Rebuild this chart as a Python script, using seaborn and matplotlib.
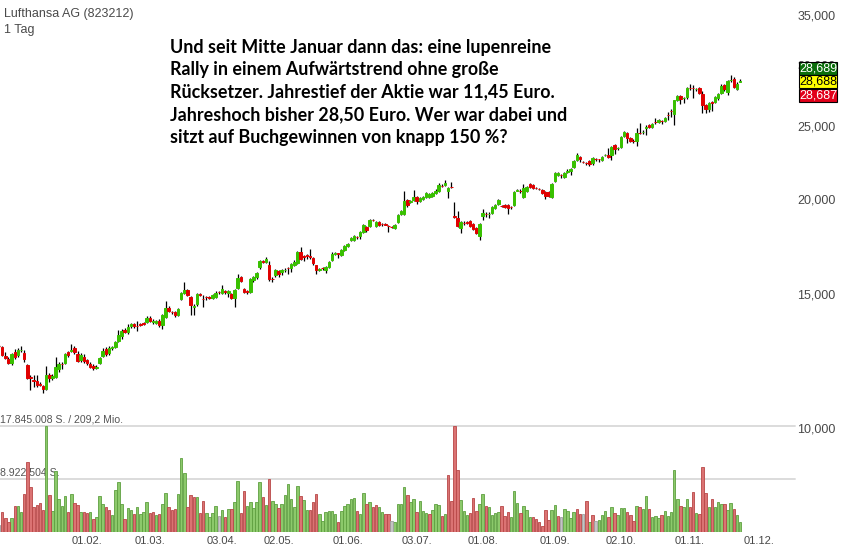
import numpy as np
import pandas as pd
import matplotlib
matplotlib.use("Agg")
import matplotlib.pyplot as plt
from matplotlib import ticker, transforms
from matplotlib.patches import Rectangle
import seaborn as sns

# ------------------------------------------------------------------ data
chart_title = "Lufthansa AG (823212)"
chart_period = "1 Tag"
note_lines = [
    "Und seit Mitte Januar dann das: eine lupenreine",
    "Rally in einem Aufwärtstrend ohne große",
    "Rücksetzer. Jahrestief der Aktie war 11,45 Euro.",
    "Jahreshoch bisher 28,50 Euro. Wer war dabei und",
    "sitzt auf Buchgewinnen von knapp 150 %?",
]
first_day = "2016-12-22"
last_axis_day = "2017-12-01"
xetra_holidays = ["2016-12-26", "2017-04-14", "2017-04-17", "2017-05-01"]

open_ = [
    12.80, 12.77, 12.44, 12.32, 12.19, 12.58, 12.47, 12.66, 12.54, 12.10,
    11.66, 11.56, 11.53, 11.43, 11.35, 11.25, 11.74, 11.64, 11.67, 11.97,
    12.15, 12.19, 12.57, 12.62, 12.74, 12.51, 12.27, 12.39, 12.28, 12.12, 12.06,
    12.00,
    12.19, 12.43, 12.70, 12.54, 12.72, 12.78, 13.01, 13.23, 13.45,
    13.36, 13.61, 13.70, 13.63, 13.70, 13.74, 13.78, 13.96, 13.80, 13.74,
    13.84, 13.64, 14.00, 14.38, 14.22, 14.20, 14.07, 14.80, 15.05, 15.18,
    14.87, 14.44, 14.55, 14.99, 14.80, 14.87, 14.86, 14.82, 14.87, 15.09,
    15.05, 15.12, 15.05, 15.00, 14.82, 15.27, 15.79, 15.25, 15.12, 15.10,
    15.65, 15.79, 16.28, 16.58, 16.55, 16.38, 15.72, 15.89, 16.08, 16.03,
    16.13,
    16.25, 16.23, 16.40, 16.50, 17.05, 16.82, 16.87, 16.82, 16.72, 16.38,
    16.16, 16.24, 16.13, 16.28, 16.63, 16.96, 16.97, 16.88, 17.14, 17.34,
    17.67, 17.67, 17.85, 17.89, 18.10, 18.38, 18.43, 18.78,
    18.43, 18.65, 18.56, 18.55, 18.45, 18.37, 18.33, 18.65, 19.12, 19.12, 19.94, 19.82,
    19.94, 20.12, 19.88, 20.00, 20.12, 20.12, 20.18, 20.37, 20.50, 20.83,
    20.87, 20.50, 20.78, 18.98, 18.90, 18.32, 18.61, 18.67, 18.70, 18.55, 18.32, 17.89, 19.00,
    19.15,
    19.10, 19.18, 19.47, 19.70, 19.62, 19.65, 19.65,
    19.56, 19.65, 20.53, 20.52, 20.12, 20.50, 20.94, 20.87, 20.70, 20.64,
    20.56, 20.43, 20.43, 20.12, 21.16, 21.51,
    21.52, 21.40, 21.75, 21.78, 22.07, 22.51, 22.72, 22.40, 22.31, 22.44, 22.30, 22.60, 22.57, 22.51,
    22.84, 22.86, 22.86, 23.56, 23.33, 23.42, 24.22, 24.44, 24.07, 23.87, 23.84, 24.45,
    24.50,
    24.85, 25.04, 24.90, 25.28, 25.27, 25.36, 25.34, 25.83, 26.15, 25.92,
    27.01, 27.34, 27.16, 27.26, 28.03, 28.02, 27.90, 28.01, 27.50, 26.60,
    26.28, 26.82, 26.84, 27.17, 27.60, 28.27, 27.67, 28.67, 28.78, 27.92, 28.55,
]
high = [
    12.87, 12.82, 12.58, 12.40, 12.55, 12.70, 12.72, 12.81, 12.66, 12.13,
    11.72, 11.74, 11.74, 11.50, 11.38, 12.08, 11.80, 11.76, 12.40, 12.20,
    12.22, 12.53, 12.62, 12.89, 12.80, 12.62, 12.55, 12.50, 12.33, 12.20, 12.12,
    12.10,
    12.40, 12.75, 12.78, 12.80, 12.82, 13.00, 13.45, 13.50, 13.52,
    13.68, 13.73, 13.74, 13.83, 13.75, 13.78, 14.05, 14.05, 13.90, 13.88,
    13.90, 14.10, 14.68, 14.45, 14.27, 14.25, 14.40, 15.10, 15.55, 15.25,
    14.92, 14.55, 15.05, 15.05, 14.95, 14.92, 14.90, 15.00, 15.15, 15.15,
    15.40, 15.20, 15.20, 15.05, 15.22, 15.93, 15.85, 15.30, 15.18, 15.75,
    15.85, 16.05, 16.65, 16.62, 16.78, 16.60, 15.80, 16.20, 16.15, 16.20,
    16.22,
    16.30, 16.50, 16.62, 17.10, 17.30, 16.90, 16.92, 17.20, 16.77, 16.40,
    16.25, 16.30, 16.33, 16.60, 17.05, 17.05, 17.00, 17.20, 17.40, 17.50,
    17.85, 17.95, 17.90, 18.15, 18.55, 18.45, 18.82, 18.82,
    18.70, 18.72, 18.60, 18.60, 18.50, 18.45, 18.55, 19.10, 19.35, 20.50, 20.00, 19.95,
    20.56, 20.18, 20.12, 20.18, 20.45, 20.37, 20.45, 20.65, 21.00, 20.92,
    21.19, 20.75, 21.10, 19.82, 19.30, 18.70, 18.70, 18.72, 18.80, 18.60, 18.40, 18.60, 19.40,
    19.25,
    19.25, 19.58, 19.70, 20.00, 19.68, 19.72, 19.70,
    19.60, 20.50, 20.62, 20.60, 20.95, 20.80, 21.00, 20.92, 20.75, 20.70,
    20.62, 20.50, 20.48, 21.00, 21.75, 21.70,
    21.60, 21.75, 21.90, 21.95, 22.50, 23.00, 22.80, 22.45, 22.40, 22.50, 22.75, 22.65, 22.62, 22.78,
    22.95, 23.35, 23.50, 23.65, 23.45, 24.20, 24.58, 24.51, 24.14, 24.00, 24.80, 25.20,
    24.70,
    25.04, 25.10, 25.20, 25.55, 25.50, 25.40, 25.65, 26.05, 26.25, 27.05,
    27.40, 27.45, 27.30, 28.10, 28.35, 28.30, 28.00, 28.10, 27.80, 26.70,
    26.85, 26.95, 27.35, 27.60, 28.40, 28.35, 28.70, 29.14, 28.95, 28.50, 28.80,
]
low = [
    12.76, 12.42, 12.33, 12.13, 12.10, 12.33, 12.40, 12.58, 12.20, 11.58,
    11.22, 11.33, 11.33, 11.35, 11.10, 11.20, 11.50, 11.55, 11.62, 11.85,
    11.95, 12.15, 12.40, 12.58, 12.50, 12.20, 12.22, 12.18, 12.10, 11.98, 11.90,
    11.94,
    12.15, 12.38, 12.45, 12.48, 12.68, 12.72, 12.98, 13.10, 13.32,
    13.30, 13.55, 13.55, 13.41, 13.60, 13.64, 13.74, 13.80, 13.70, 13.70,
    13.58, 13.50, 13.95, 14.20, 14.10, 14.00, 14.02, 14.75, 15.00, 14.90,
    14.07, 14.07, 14.45, 14.90, 14.43, 14.75, 14.78, 14.78, 14.83, 15.02,
    15.00, 15.00, 14.85, 14.78, 14.43, 15.22, 15.55, 15.05, 15.00, 15.05,
    15.55, 15.70, 16.20, 16.50, 16.50, 15.60, 15.55, 15.80, 15.80, 15.90,
    16.05,
    15.95, 16.05, 16.35, 16.45, 16.65, 16.60, 16.70, 16.70, 16.40, 15.95,
    16.10, 16.15, 15.98, 16.22, 16.58, 16.90, 16.75, 16.83, 17.09, 17.30,
    17.60, 17.62, 17.75, 17.75, 18.05, 18.10, 18.38, 18.70,
    18.38, 18.45, 18.45, 18.47, 18.10, 18.30, 18.25, 18.60, 19.05, 19.05, 19.55, 19.75,
    19.88, 19.70, 19.82, 19.95, 20.06, 20.06, 20.12, 20.30, 20.45, 20.75,
    20.83, 20.06, 20.70, 18.90, 18.38, 18.05, 18.50, 18.55, 18.38, 18.21, 18.00, 17.67, 18.77,
    18.95,
    18.90, 19.12, 19.40, 19.65, 19.55, 19.47, 19.10,
    19.40, 19.60, 20.48, 20.40, 20.06, 20.45, 20.70, 20.62, 20.60, 20.55,
    20.30, 20.00, 20.12, 20.06, 21.10, 21.45,
    21.30, 21.35, 21.65, 21.50, 21.95, 22.45, 22.40, 22.30, 22.20, 22.15, 22.20, 22.45, 22.40, 22.45,
    22.78, 22.65, 22.51, 22.95, 23.25, 23.35, 24.15, 23.70, 23.78, 23.70, 23.50, 24.35,
    24.40,
    24.30, 24.80, 24.85, 25.15, 25.20, 25.10, 25.28, 25.40, 25.65, 25.04,
    26.90, 26.70, 26.80, 27.10, 27.85, 27.20, 27.80, 27.50, 26.00, 25.95,
    26.05, 26.10, 26.75, 27.00, 27.55, 27.80, 27.40, 28.55, 28.05, 27.85, 28.50,
]
close = [
    12.80, 12.47, 12.37, 12.19, 12.50, 12.41, 12.66, 12.68, 12.32, 11.63,
    11.63, 11.52, 11.39, 11.40, 11.25, 11.74, 11.64, 11.71, 12.03, 12.13,
    12.12, 12.50, 12.48, 12.65, 12.57, 12.24, 12.47, 12.24, 12.17, 12.04, 11.99,
    12.04,
    12.35, 12.61, 12.51, 12.74, 12.78, 12.96, 13.25, 13.41, 13.37,
    13.58, 13.69, 13.62, 13.60, 13.67, 13.69, 13.95, 13.84, 13.82, 13.82,
    13.64, 14.07, 14.38, 14.25, 14.20, 14.07, 14.33, 15.05, 15.18, 14.95,
    14.51, 14.47, 15.00, 14.95, 14.77, 14.85, 14.84, 14.95, 15.05, 15.09,
    15.25, 15.09, 15.13, 14.82, 15.18, 15.74, 15.60, 15.10, 15.10, 15.70,
    15.79, 15.98, 16.58, 16.55, 16.68, 15.70, 15.68, 16.13, 15.93, 16.13,
    16.16,
    16.22, 16.43, 16.55, 17.05, 16.70, 16.78, 16.84, 16.79, 16.47, 16.13,
    16.19, 16.21, 16.28, 16.55, 16.96, 16.99, 16.94, 17.14, 17.34, 17.45,
    17.78, 17.89, 17.83, 18.10, 18.49, 18.21, 18.77, 18.75,
    18.65, 18.49, 18.53, 18.52, 18.42, 18.37, 18.49, 19.06, 19.30, 19.88, 19.65, 19.88,
    20.12, 19.88, 20.06, 20.12, 20.37, 20.31, 20.37, 20.50, 20.87, 20.80,
    21.00, 20.68, 20.75, 18.94, 18.43, 18.65, 18.58, 18.60, 18.43, 18.27, 18.05, 18.55, 19.18,
    19.10,
    19.12, 19.53, 19.65, 19.94, 19.59, 19.53, 19.47,
    19.53, 20.43, 20.56, 20.49, 20.68, 20.75, 20.75, 20.68, 20.67, 20.61,
    20.37, 20.18, 20.18, 20.94, 21.68, 21.64,
    21.52, 21.68, 21.78, 21.90, 22.44, 22.86, 22.58, 22.37, 22.31, 22.24, 22.65, 22.57, 22.57, 22.72,
    22.86, 22.72, 23.42, 23.28, 23.36, 24.14, 24.51, 24.07, 23.85, 23.84, 24.44, 24.42,
    24.55,
    24.88, 24.88, 25.12, 25.25, 25.42, 25.33, 25.57, 25.80, 26.12, 27.01,
    27.34, 27.09, 27.20, 28.01, 28.00, 27.99, 27.93, 27.60, 26.60, 26.28,
    26.76, 26.79, 27.26, 27.50, 28.18, 27.92, 28.61, 28.70, 28.10, 28.36, 28.62,
]
volume_mio = [
    1.18, 3.42, 2.31, 1.63, 2.41, 4.43, 4.38, 3.42, 6.34, 11.83,
    7.57, 4.26, 4.54, 4.83, 3.70, 17.845008, 6.23, 3.58, 10.27, 5.50,
    4.38, 6.01, 3.42, 6.34, 4.93, 4.54, 3.37, 3.37, 3.15, 3.42, 2.19,
    2.60,
    6.06, 4.71, 4.21, 3.70, 2.86, 7.07, 8.36, 4.71, 2.24,
    4.04, 3.70, 3.08, 4.26, 3.08, 3.32, 5.10, 3.20, 3.37, 2.86,
    3.08, 4.76, 6.61, 4.26, 3.70, 3.92, 6.45, 12.50, 9.93, 4.26,
    6.23, 5.94, 5.84, 3.15, 5.22, 3.25, 2.58, 3.25, 4.43, 2.74,
    3.65, 2.58, 3.82, 3.87, 5.05, 8.63, 3.25, 6.85, 4.43, 5.00,
    3.99, 5.10, 8.42, 5.89, 4.54, 8.97, 5.22, 4.71, 3.99, 4.66,
    6.20,
    8.03, 5.55, 4.21, 7.79, 6.01, 5.34, 3.65, 3.65, 5.05, 6.34,
    2.98, 1.85, 3.37, 3.48, 3.53, 3.03, 1.68, 3.53, 4.43, 4.76,
    5.55, 5.77, 3.53, 3.08, 6.51, 4.71, 5.05, 4.21,
    4.49, 4.26, 3.32, 3.03, 3.03, 1.90, 1.73, 4.66, 4.66, 7.52, 6.23, 5.00,
    5.55, 3.32, 5.22, 3.58, 3.20, 3.03, 3.75, 4.66, 4.49, 2.74,
    3.03, 9.59, 5.22, 17.84, 10.49, 5.44, 3.48, 2.86, 3.20, 5.67, 3.58, 4.71, 6.45,
    4.40,
    4.16, 2.91, 3.15, 3.32, 4.33, 2.74, 3.32,
    2.52, 6.85, 4.83, 3.15, 4.33, 3.65, 2.47, 2.47, 2.19, 1.68,
    0.96, 3.65, 2.07, 3.65, 4.59, 2.64,
    2.47, 3.87, 3.53, 2.36, 3.37, 3.87, 3.08, 3.08, 5.22, 1.73, 2.81, 1.90, 2.02, 2.81,
    3.53, 2.52, 4.21, 3.15, 2.91, 4.04, 4.04, 3.32, 2.86, 1.80, 4.38, 4.16,
    3.90,
    6.01, 3.82, 2.47, 2.64, 2.41, 2.81, 3.53, 2.74, 3.32, 10.43,
    5.50, 4.38, 4.26, 5.60, 4.21, 6.73, 3.20, 3.03, 10.99, 6.51,
    4.21, 5.50, 4.26, 5.00, 4.66, 4.66, 3.70, 4.88, 3.87, 2.91, 1.60,
]
# volume bar direction: g = up, r = down, n = unchanged
vol_dir = "".join([
    "nrrrgrggrr", "rrrrrgrggg", "ggrgrrgrrgr", "g",
    "ggrrggggr", "ggrggggrrg", "rggrrrgggr",
    "rrgrrggggn", "grgrggrrgg", "gggrgrggrg", "g",
    "ggggrggrrr", "ggggggrggg", "ggrggrgr",
    "rggrrnggggrg", "grgggrgggr", "grrrrgggrrrgg", "r",
    "ggggrrr", "gggrgggrrr", "rrrggr",
    "nggggrrnrgrngg", "grgrgggrrrgr", "g",
    "grgggrgggg", "grggrrgrrr", "grgggrggrgg",
])
quotes = [28.689, 28.688, 28.687]
price_ticks = [10, 15, 20, 25, 30, 35]
month_ticks = ["2017-02-01", "2017-03-01", "2017-04-03", "2017-05-02", "2017-06-01",
               "2017-07-03", "2017-08-01", "2017-09-01", "2017-10-02", "2017-11-01",
               "2017-12-01"]
turnover_label = "209,2 Mio."

# ------------------------------------------------------------------ style
sns.set_theme(style="white")
plt.rcParams["font.family"] = ["Liberation Sans", "DejaVu Sans"]
plt.rcParams["axes.unicode_minus"] = False

W, H, DPI = 842, 556, 100
fig = plt.figure(figsize=(W / DPI, H / DPI), dpi=DPI, facecolor="white")

PLOT_R = 795          # right edge of plot area (px)
PRICE_BOTTOM = 428    # px from top where the log price axis reaches 10
VOL_TOP, VOL_BOTTOM = 426, 532
PX_PER_LN = 330.0

axp = fig.add_axes([0, 1 - PRICE_BOTTOM / H, PLOT_R / W, PRICE_BOTTOM / H])
axv = fig.add_axes([0, 1 - VOL_BOTTOM / H, PLOT_R / W, (VOL_BOTTOM - VOL_TOP) / H])
for a in (axp, axv):
    a.set_facecolor("none")
    for s in a.spines.values():
        s.set_visible(False)

# ------------------------------------------------------------------ x positions
cal = pd.bdate_range(first_day, last_axis_day)
cal = cal[~cal.isin(pd.to_datetime(xetra_holidays))]
n = len(close)
xpos = np.arange(n)
tick_idx = [cal.get_loc(pd.Timestamp(d)) for d in month_ticks]
tick_lab = [pd.Timestamp(d).strftime("%d.%m.") for d in month_ticks]
ppd = (759 - 87) / (tick_idx[-1] - tick_idx[0])
xl = tick_idx[0] - 87 / ppd
xr = xl + PLOT_R / ppd

# ------------------------------------------------------------------ candles
O = np.array(open_); Hh = np.array(high); L = np.array(low); C = np.array(close)
up = C > O
body_col = np.where(up, "#38c000", "#e00000")
axp.set_yscale("log")
axp.vlines(xpos, L, Hh, colors="black", linewidth=0.9, zorder=2)
axp.bar(xpos, np.abs(C - O), bottom=np.minimum(O, C), width=0.8,
        color=body_col, edgecolor=body_col, linewidth=0.7, zorder=3)
axp.set_ylim(9.995, 10 * np.exp(PRICE_BOTTOM / PX_PER_LN))
axp.set_xlim(xl, xr)
axp.set_xticks([])
axp.yaxis.tick_right()
axp.yaxis.set_major_locator(ticker.FixedLocator(price_ticks))
axp.yaxis.set_minor_locator(ticker.NullLocator())
axp.yaxis.set_major_formatter(ticker.FuncFormatter(lambda v, p: f"{v:.3f}".replace(".", ",")))
axp.tick_params(axis="y", length=0, pad=1.5, labelsize=9, labelcolor="#484848")
axp.set_ylabel("")

# ------------------------------------------------------------------ volume
vdf = pd.DataFrame({"pos": xpos, "vol": np.array(volume_mio) * 1e6, "dir": list(vol_dir)})
fills = {"g": "#8cc96b", "r": "#db7373", "n": "#c4c4c4"}
edges = {"g": "#5e9f3f", "r": "#b84747", "n": "#a0a0a0"}
order = ["g", "r", "n"]
sns.barplot(data=vdf, x="pos", y="vol", hue="dir", hue_order=order, palette=fills,
            dodge=False, native_scale=True, width=0.8, errorbar=None, legend=False,
            saturation=1, linewidth=0.6, edgecolor="none", ax=axv, zorder=2)
for cont, lvl in zip(axv.containers, order):
    for b in cont:
        b.set_edgecolor(edges[lvl])
vmax = vdf["vol"].max()
axv.set_ylim(0, vmax)
axv.set_xlim(xl, xr)
axv.set_yticks([])
axv.set_xlabel(""); axv.set_ylabel("")
axv.set_xticks(tick_idx, tick_lab)
axv.tick_params(axis="x", length=0, pad=3, labelsize=8, labelcolor="#484848")
for lvl in (vmax, vmax / 2):
    axv.axhline(lvl, color="#dcdcdc", linewidth=1.4, zorder=0.5, clip_on=False)

blend = transforms.blended_transform_factory(axv.transAxes, axv.transData)
top_txt = f"{vmax:,.0f}".replace(",", ".") + " S. / " + turnover_label
half_txt = f"{vmax / 2:,.0f}".replace(",", ".") + " S."
axv.text(0.0006, vmax, top_txt, transform=transforms.offset_copy(blend, fig=fig, y=1.5, units="dots"),
         ha="left", va="bottom", fontsize=7.6, color="#555555", zorder=1, clip_on=False)
axv.text(0.0006, vmax / 2, half_txt, transform=transforms.offset_copy(blend, fig=fig, y=0.5, units="dots"),
         ha="left", va="bottom", fontsize=7.6, color="#555555", zorder=1, clip_on=False)

# ------------------------------------------------------------------ quote boxes
disp = axp.transData.transform((xr, quotes[1]))
yc = H - disp[1] + 1.5
box_fill = ["#0b6e0b", "#ffff00", "#e2001a"]
box_txt = ["white", "black", "white"]
for k, q in enumerate(quotes):
    c = yc + (k - 1) * 13.5
    fig.add_artist(Rectangle((799 / W, 1 - (c + 6.5) / H), 38 / W, 13 / H,
                             transform=fig.transFigure, facecolor=box_fill[k],
                             edgecolor="black", linewidth=0.8, zorder=5))
    fig.text(818 / W, 1 - c / H, f"{q:.3f}".replace(".", ","), ha="center", va="center",
             fontsize=9, color=box_txt[k], zorder=6)

# ------------------------------------------------------------------ header texts
fig.text(4 / W, 1 - 14 / H, chart_title, ha="left", va="center", fontsize=9, color="#4a4a4a")
fig.text(4 / W, 1 - 30 / H, chart_period, ha="left", va="center", fontsize=9, color="#4a4a4a")

renderer = fig.canvas.get_renderer()
note_objs = []
for k, line in enumerate(note_lines):
    t = fig.text(170 / W, 1 - (47 + 22.5 * k) / H, line, ha="left", va="center",
                 fontsize=12, fontweight="bold", family=["Lato", "DejaVu Sans"], color="black")
    note_objs.append(t)
w0 = note_objs[0].get_window_extent(renderer).width
for t in note_objs:
    t.set_fontsize(12 * 378.0 / w0)

fig.savefig("out.png", dpi=DPI, facecolor="white")
